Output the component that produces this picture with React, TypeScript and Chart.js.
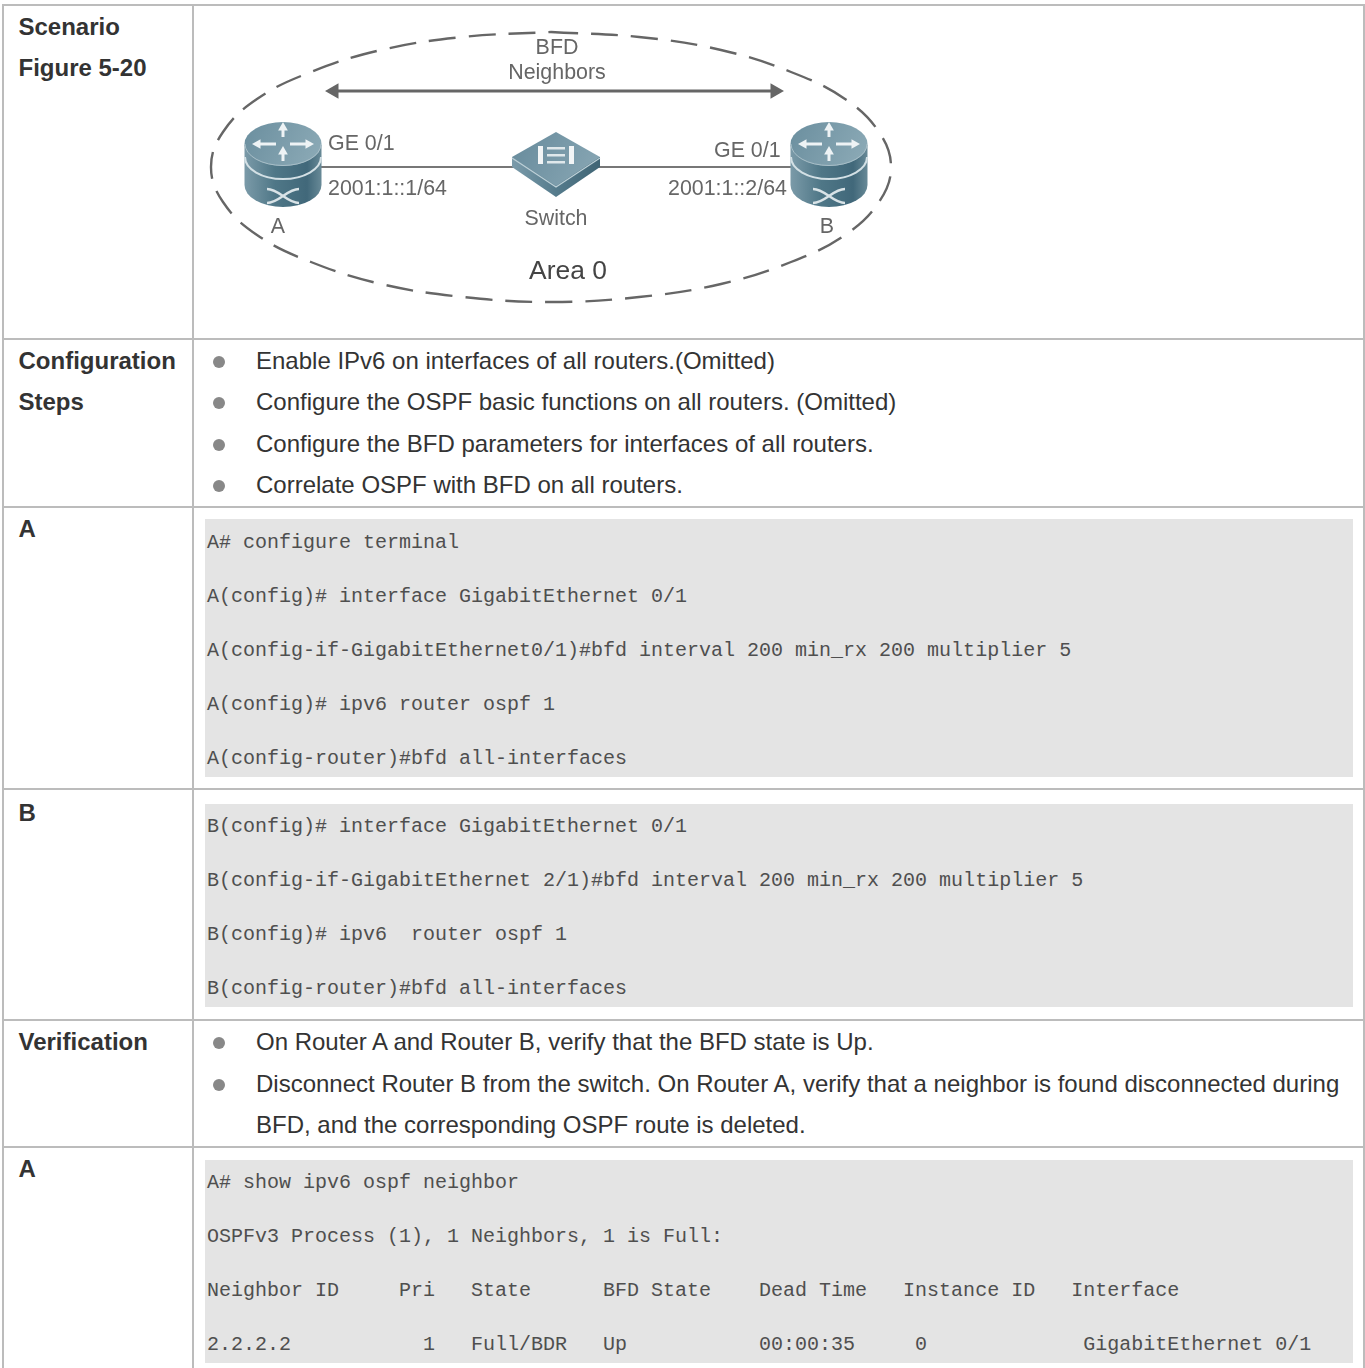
import React, { useEffect, useRef } from "react";
import { Chart, registerables } from "chart.js";

Chart.register(...registerables);

// ---- table content ----
const scenarioLabels = ["Scenario", "Figure 5-20"];
const configLabels = ["Configuration", "Steps"];
const configSteps = [
  "Enable IPv6 on interfaces of all routers.(Omitted)",
  "Configure the OSPF basic functions on all routers. (Omitted)",
  "Configure the BFD parameters for interfaces of all routers.",
  "Correlate OSPF with BFD on all routers.",
];
const codeA = [
  "A# configure terminal",
  "A(config)# interface GigabitEthernet 0/1",
  "A(config-if-GigabitEthernet0/1)#bfd interval 200 min_rx 200 multiplier 5",
  "A(config)# ipv6 router ospf 1",
  "A(config-router)#bfd all-interfaces",
];
const codeB = [
  "B(config)# interface GigabitEthernet 0/1",
  "B(config-if-GigabitEthernet 2/1)#bfd interval 200 min_rx 200 multiplier 5",
  "B(config)# ipv6  router ospf 1",
  "B(config-router)#bfd all-interfaces",
];
const verifyBullets = [
  ["On Router A and Router B, verify that the BFD state is Up."],
  [
    "Disconnect Router B from the switch. On Router A, verify that a neighbor is found disconnected during",
    "BFD, and the corresponding OSPF route is deleted.",
  ],
];
const codeShow = [
  "A# show ipv6 ospf neighbor",
  "OSPFv3 Process (1), 1 Neighbors, 1 is Full:",
  "Neighbor ID     Pri   State      BFD State    Dead Time   Instance ID   Interface",
  "2.2.2.2           1   Full/BDR   Up           00:00:35     0             GigabitEthernet 0/1",
];

// ---- diagram values ----
const ellipseX = [551, 639, 721, 791, 845, 879, 891, 879, 845, 791, 721, 639, 551, 463, 381, 311, 257, 223, 211, 223, 257, 311, 381, 463, 551];
const ellipseY = [32, 37, 50, 72, 99, 132, 167, 202, 235, 262, 284, 297, 302, 297, 284, 262, 235, 202, 167, 132, 99, 72, 50, 37, 32];
const arrowX = [334, 775];
const arrowY = [91, 91];
const linkX = [283, 829];
const linkY = [167, 167];
const routerX = [283, 829];
const routerY = [165, 165];
const switchX = [556];
const switchY = [165];
const diagramTexts = ["BFD", "Neighbors", "GE 0/1", "2001:1::1/64", "GE 0/1", "2001:1::2/64", "A", "B", "Switch"];
const diagramTextX = [557, 557, 328, 328, 714, 668, 278, 827, 556];
const diagramTextY = [48, 73, 144, 189, 151, 189, 227, 227, 219];
const areaText = "Area 0";
const areaTextX = 568;
const areaTextY = 272;

const zip = (xs: number[], ys: number[]) => xs.map((x, i) => ({ x, y: ys[i] }));

function makeRouter(): HTMLCanvasElement {
  const c = document.createElement("canvas");
  c.width = 80;
  c.height = 88;
  const g = c.getContext("2d")!;
  const cx = 40, rx = 38.5, ry = 22;
  const side = g.createLinearGradient(0, 0, 80, 0);
  side.addColorStop(0, "#7d9caa");
  side.addColorStop(0.4, "#4f7787");
  side.addColorStop(0.8, "#41687a");
  side.addColorStop(1, "#6c8d9a");
  g.fillStyle = side;
  g.beginPath();
  g.moveTo(cx - rx, 24);
  g.lineTo(cx - rx, 64);
  g.ellipse(cx, 64, rx, ry, 0, Math.PI, 0, true);
  g.lineTo(cx + rx, 24);
  g.closePath();
  g.fill();
  // band
  g.strokeStyle = "#d3e0e5";
  g.lineWidth = 2;
  g.beginPath();
  g.ellipse(cx, 36, rx - 0.5, ry, 0, Math.PI, 0, true);
  g.stroke();
  // top face
  const face = g.createLinearGradient(0, 0, 80, 40);
  face.addColorStop(0, "#6a8e9e");
  face.addColorStop(1, "#8dabb7");
  g.fillStyle = face;
  g.beginPath();
  g.ellipse(cx, 23, rx, ry, 0, 0, Math.PI * 2);
  g.fill();
  g.strokeStyle = "#a9bfc8";
  g.lineWidth = 1;
  g.beginPath();
  g.ellipse(cx, 23, rx - 0.5, ry - 0.5, 0, Math.PI, 0, true);
  g.stroke();
  // top arrows
  g.strokeStyle = "#eef3f5";
  g.fillStyle = "#eef3f5";
  g.lineWidth = 3;
  const arrow = (x0: number, y0: number, x1: number, y1: number) => {
    g.beginPath();
    g.moveTo(x0, y0);
    g.lineTo(x1, y1);
    g.stroke();
    const a = Math.atan2(y1 - y0, x1 - x0);
    g.beginPath();
    g.moveTo(x1 + 5 * Math.cos(a), y1 + 5 * Math.sin(a));
    g.lineTo(x1 + 6 * Math.cos(a + 2.2), y1 + 6 * Math.sin(a + 2.2));
    g.lineTo(x1 + 6 * Math.cos(a - 2.2), y1 + 6 * Math.sin(a - 2.2));
    g.closePath();
    g.fill();
  };
  arrow(33, 23, 14, 23);
  arrow(47, 23, 66, 23);
  arrow(40, 16, 40, 6);
  arrow(40, 40, 40, 30);
  // lower cross
  g.strokeStyle = "#d9e3e7";
  g.lineWidth = 2.5;
  g.beginPath();
  g.moveTo(24, 68);
  g.bezierCurveTo(36, 68, 44, 82, 56, 82);
  g.moveTo(24, 82);
  g.bezierCurveTo(36, 82, 44, 68, 56, 68);
  g.stroke();
  return c;
}

function makeSwitch(): HTMLCanvasElement {
  const c = document.createElement("canvas");
  c.width = 90;
  c.height = 66;
  const g = c.getContext("2d")!;
  const side = g.createLinearGradient(0, 0, 90, 0);
  side.addColorStop(0, "#7c9cab");
  side.addColorStop(0.5, "#557b8c");
  side.addColorStop(1, "#3f6474");
  g.fillStyle = side;
  g.beginPath();
  g.moveTo(1, 25);
  g.lineTo(1, 35);
  g.lineTo(45, 65);
  g.lineTo(89, 35);
  g.lineTo(89, 25);
  g.closePath();
  g.fill();
  const face = g.createLinearGradient(0, 0, 90, 50);
  face.addColorStop(0, "#668a9b");
  face.addColorStop(1, "#8aa8b5");
  g.fillStyle = face;
  g.beginPath();
  g.moveTo(1, 25);
  g.lineTo(45, 0);
  g.lineTo(89, 25);
  g.lineTo(45, 54);
  g.closePath();
  g.fill();
  g.strokeStyle = "#bdd0d7";
  g.lineWidth = 1.2;
  g.beginPath();
  g.moveTo(1, 26);
  g.lineTo(45, 55);
  g.lineTo(89, 26);
  g.stroke();
  g.fillStyle = "#f2f5f6";
  g.fillRect(27, 14, 5, 18);
  g.fillRect(58, 14, 5, 18);
  g.fillStyle = "#dfe8eb";
  g.fillRect(36, 15, 18, 2.5);
  g.fillRect(36, 22, 18, 2.5);
  g.fillRect(36, 29, 18, 2.5);
  return c;
}

const labelPlugin = {
  id: "diagramLabels",
  afterDatasetsDraw(chart: any) {
    const { ctx, scales } = chart;
    ctx.save();
    ctx.textBaseline = "middle";
    diagramTexts.forEach((t, i) => {
      const centred = ["BFD", "Neighbors", "A", "B", "Switch"].includes(t);
      ctx.textAlign = centred ? "center" : "left";
      ctx.font = '21.4px "Liberation Sans"';
      ctx.fillStyle = "#666";
      ctx.fillText(t, scales.x.getPixelForValue(diagramTextX[i]), scales.y.getPixelForValue(diagramTextY[i]));
    });
    ctx.textAlign = "center";
    ctx.font = '26.4px "Liberation Sans"';
    ctx.fillStyle = "#444";
    ctx.fillText(areaText, scales.x.getPixelForValue(areaTextX), scales.y.getPixelForValue(areaTextY));
    ctx.restore();
  },
};

function Diagram() {
  const ref = useRef<HTMLCanvasElement | null>(null);
  useEffect(() => {
    const router = makeRouter();
    const sw = makeSwitch();
    const chart = new Chart(ref.current!, {
      type: "scatter",
      data: {
        datasets: [
          { data: zip(routerX, routerY), pointStyle: router as any, pointRadius: 40, order: 1 } as any,
          { data: zip(switchX, switchY), pointStyle: sw as any, pointRadius: 40, order: 1 } as any,
          { data: zip(linkX, linkY), showLine: true, borderColor: "#777", borderWidth: 2, pointRadius: 0, order: 3 } as any,
          {
            data: zip(arrowX, arrowY),
            showLine: true,
            borderColor: "#666",
            borderWidth: 3,
            backgroundColor: "#666",
            pointBackgroundColor: "#666",
            pointBorderColor: "#666",
            pointStyle: "triangle",
            pointRadius: 6,
            pointRotation: [-90, 90],
            order: 2,
          } as any,
          {
            data: zip(ellipseX, ellipseY),
            showLine: true,
            borderColor: "#666",
            borderWidth: 2.4,
            borderDash: [27, 13],
            tension: 0.4,
            pointRadius: 0,
            order: 4,
          } as any,
        ],
      },
      options: {
        animation: false,
        responsive: false,
        maintainAspectRatio: false,
        events: [],
        layout: { padding: 0, autoPadding: false },
        plugins: { legend: { display: false }, tooltip: { enabled: false } },
        scales: {
          x: { type: "linear", min: 195, max: 915, display: false },
          y: { type: "linear", min: 5, max: 335, reverse: true, display: false },
        },
      },
      plugins: [labelPlugin],
    });
    return () => chart.destroy();
  }, []);
  return (
    <canvas
      ref={ref}
      width={720}
      height={330}
      style={{ position: "absolute", left: 195, top: 5, width: 720, height: 330, filter: "blur(0.6px)" }}
    />
  );
}

const GRID = "#bcbcbc";
const H = (y: number) => <div style={{ position: "absolute", left: 2, width: 1362, top: y, height: 2, background: GRID }} />;
const V = (x: number, top: number, h: number) => <div style={{ position: "absolute", left: x, top, width: 2, height: h, background: GRID }} />;
const Grey = (top: number, h: number) => <div style={{ position: "absolute", left: 205, width: 1148, top, height: h, background: "#e4e4e4" }} />;

const Txt = ({ x, y, kind, children }: { x: number; y: number; kind: "bold" | "body" | "code"; children: React.ReactNode }) => (
  <div
    style={{
      position: "absolute",
      left: x,
      top: y - 15 + (kind === "code" ? 2 : 0),
      height: 30,
      lineHeight: "30px",
      whiteSpace: "pre",
      fontFamily: kind === "code" ? '"Liberation Mono", monospace' : '"Liberation Sans", Arial, sans-serif',
      fontSize: kind === "code" ? 20 : 24,
      fontWeight: kind === "bold" ? 700 : 400,
      color: kind === "code" ? "#4f4f4f" : "#333",
    }}
  >
    {children}
  </div>
);

const Bullet = ({ y }: { y: number }) => (
  <div style={{ position: "absolute", left: 213, top: y - 5.5, width: 12, height: 12, borderRadius: 6, background: "#888" }} />
);

const configY = [361, 402, 444, 485];
const codeAY = [541, 595, 649, 703, 757];
const codeBY = [825, 879, 933, 987];
const verifyY = [[1042], [1084, 1125]];
const showY = [1181, 1235, 1289, 1343];

export default function App() {
  useEffect(() => {
    document.body.style.margin = "0";
    document.body.style.background = "#fff";
  }, []);
  return (
    <div style={{ position: "relative", width: 1365, height: 1368, overflow: "hidden", background: "#fff" }}>
      {H(4)}
      {H(338)}
      {H(506)}
      {H(788)}
      {H(1019)}
      {H(1146)}
      {V(2, 4, 1364)}
      {V(192, 4, 1364)}
      {V(1363, 4, 1364)}
      {Grey(519, 258)}
      {Grey(804, 203)}
      {Grey(1160, 203)}
      <Diagram />
      <Txt x={18.5} y={27} kind="bold">{scenarioLabels[0]}</Txt>
      <Txt x={18.5} y={68} kind="bold">{scenarioLabels[1]}</Txt>
      <Txt x={18.5} y={361} kind="bold">{configLabels[0]}</Txt>
      <Txt x={18.5} y={402} kind="bold">{configLabels[1]}</Txt>
      {configSteps.map((s, i) => (
        <React.Fragment key={i}>
          <Bullet y={configY[i]} />
          <Txt x={256} y={configY[i]} kind="body">{s}</Txt>
        </React.Fragment>
      ))}
      <Txt x={18.5} y={529} kind="bold">A</Txt>
      {codeA.map((s, i) => <Txt key={i} x={207} y={codeAY[i]} kind="code">{s}</Txt>)}
      <Txt x={18.5} y={813} kind="bold">B</Txt>
      {codeB.map((s, i) => <Txt key={i} x={207} y={codeBY[i]} kind="code">{s}</Txt>)}
      <Txt x={18.5} y={1042} kind="bold">Verification</Txt>
      {verifyBullets.map((lines, i) => (
        <React.Fragment key={i}>
          <Bullet y={verifyY[i][0]} />
          {lines.map((l, j) => <Txt key={j} x={256} y={verifyY[i][j]} kind="body">{l}</Txt>)}
        </React.Fragment>
      ))}
      <Txt x={18.5} y={1169} kind="bold">A</Txt>
      {codeShow.map((s, i) => <Txt key={i} x={207} y={showY[i]} kind="code">{s}</Txt>)}
    </div>
  );
}
